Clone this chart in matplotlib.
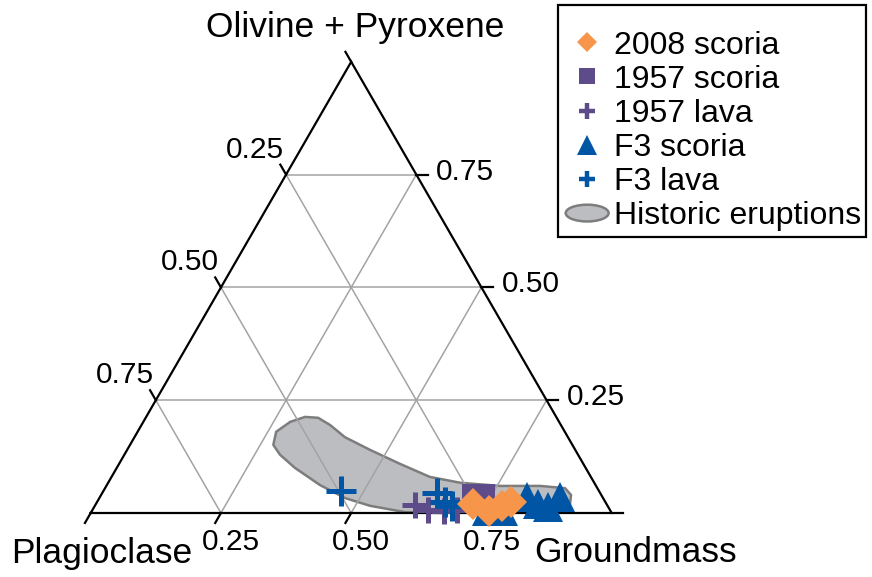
import matplotlib
matplotlib.use("Agg")
import matplotlib.pyplot as plt
import numpy as np
from matplotlib.patches import Polygon, Ellipse, Patch, Rectangle
from matplotlib.lines import Line2D
from matplotlib.legend_handler import HandlerPatch

plt.rcParams["font.family"] = ["Liberation Sans", "DejaVu Sans"]

# ternary fractions: groundmass (right corner), olivine + pyroxene (top corner)
# plagioclase (left corner) = 1 - groundmass - olivine
lava_1957_gm = [0.614, 0.644, 0.676, 0.700]
lava_1957_ol = [0.018, 0.007, 0.004, 0.007]

f3_lava_gm = [0.455, 0.643, 0.668, 0.686]
f3_lava_ol = [0.049, 0.044, 0.024, 0.016]

scoria_1957_gm = [0.711, 0.736]
scoria_1957_ol = [0.042, 0.042]

f3_scoria_gm = [0.759, 0.789, 0.820, 0.849, 0.871, 0.883]
f3_scoria_ol = [0.004, 0.004, 0.036, 0.020, 0.013, 0.036]

scoria_2008_gm = [0.724, 0.762, 0.782, 0.795]
scoria_2008_ol = [0.020, 0.004, 0.016, 0.024]

# outline of the historic eruptions field
hist_gm = [0.275, 0.266, 0.282, 0.305, 0.331, 0.362, 0.404, 0.466, 0.539,
           0.611, 0.676, 0.756, 0.833, 0.883, 0.902, 0.910, 0.895, 0.783,
           0.671, 0.602, 0.528, 0.472, 0.409, 0.342, 0.299]
hist_ol = [0.151, 0.180, 0.202, 0.213, 0.211, 0.195, 0.168, 0.140, 0.109,
           0.080, 0.067, 0.060, 0.060, 0.055, 0.040, 0.020, 0.011, 0.004,
           0.000, 0.002, 0.016, 0.033, 0.062, 0.100, 0.129]

ticks = [0.25, 0.50, 0.75]

H = np.sqrt(3) / 2


def tern(gm, ol):
    gm = np.asarray(gm, dtype=float)
    ol = np.asarray(ol, dtype=float)
    return gm + ol / 2, ol * H


W, HT = 872, 577
fig = plt.figure(figsize=(W / 100, HT / 100), dpi=100)
ax = fig.add_axes([0, 0, 1, 1])
px = 521.0  # pixels per unit
ax.set_xlim(-90.7 / px, (W - 90.7) / px)
ax.set_ylim((513 - HT) / px, 513 / px)
ax.axis("off")

# grid
grid_kw = dict(color="#a3a3a3", lw=1.1, zorder=2)
for t in ticks:
    # constant olivine
    x, y = tern([0, 1 - t], [t, t])
    ax.plot(x, y, **grid_kw)
    # constant groundmass
    x, y = tern([t, t], [0, 1 - t])
    ax.plot(x, y, **grid_kw)
    # constant plagioclase
    x, y = tern([1 - t, 0], [0, 1 - t])
    ax.plot(x, y, **grid_kw)

# historic field
hx, hy = tern(hist_gm, hist_ol)
ax.add_patch(Polygon(np.column_stack([hx, hy]), closed=True, facecolor="#bcbdc0",
                     edgecolor="#7d7d7d", lw=1.8, joinstyle="round", zorder=1))

# frame
x, y = tern([0, 1, 0, 0], [0, 0, 1, 0])
ax.plot(x, y, color="black", lw=1.6, zorder=3, solid_joinstyle="miter")

# ticks
tl = 11.5 / px
for t in [0.0] + ticks:
    # bottom (groundmass)
    x0, y0 = tern(t, 0)
    ax.plot([x0, x0 - 0.5 * tl], [y0, y0 - H * tl], color="black", lw=1.6, zorder=3)
    # right (olivine)
    x0, y0 = tern(1 - t, t)
    ax.plot([x0, x0 + tl], [y0, y0], color="black", lw=1.6, zorder=3)
    # left (plagioclase)
    x0, y0 = tern(0, 1 - t)
    ax.plot([x0, x0 - 0.5 * tl], [y0, y0 + H * tl], color="black", lw=1.6, zorder=3)

fs = 21.5
for t in ticks:
    x0, y0 = tern(t, 0)
    ax.text(x0 + 10 / px, y0 - 29 / px, f"{t:.2f}", fontsize=fs, ha="center", va="center")
    x0, y0 = tern(1 - t, t)
    ax.text(x0 + 20 / px, y0 + 3 / px, f"{t:.2f}", fontsize=fs, ha="left", va="center")
    x0, y0 = tern(0, 1 - t)
    ax.text(x0 - 31 / px, y0 + 25 / px, f"{t:.2f}", fontsize=fs, ha="center", va="center")

tfs = 25.5
fig.text(355 / W, 1 - 28 / HT, "Olivine + Pyroxene", fontsize=tfs, ha="center", va="center")
fig.text(11 / W, 1 - 553 / HT, "Plagioclase", fontsize=tfs, ha="left", va="center")
fig.text(534 / W, 1 - 553 / HT, "Groundmass", fontsize=tfs, ha="left", va="center")

orange = "#f7964a"
purple = "#5e4b8a"
blue = "#0055a5"

x, y = tern(lava_1957_gm, lava_1957_ol)
ax.plot(x, y, ls="none", marker="+", ms=19, mew=3.6, color=purple, zorder=4)
x, y = tern(f3_lava_gm, f3_lava_ol)
ax.plot(x, y, ls="none", marker="+", ms=21, mew=3.6, color=blue, zorder=5)
x, y = tern(scoria_1957_gm, scoria_1957_ol)
ax.plot(x, y, ls="none", marker="s", ms=15, color=purple, mew=0, zorder=5)
x, y = tern(f3_scoria_gm, f3_scoria_ol)
ax.plot(x, y, ls="none", marker="^", ms=22, color=blue, mew=0, zorder=6)
x, y = tern(scoria_2008_gm, scoria_2008_ol)
ax.plot(x, y, ls="none", marker="D", ms=16.5, color=orange, mew=0, zorder=7)


def make_ellipse(legend, orig_handle, xdescent, ydescent, width, height, fontsize):
    return Ellipse(xy=(0.5 * width - xdescent, 0.5 * height - ydescent),
                   width=width * 1.12, height=height * 0.75)


handles = [
    Line2D([], [], ls="none", marker="D", ms=10, color=orange, mew=0),
    Line2D([], [], ls="none", marker="s", ms=11.5, color=purple, mew=0),
    Line2D([], [], ls="none", marker="+", ms=12, mew=3.2, color=purple),
    Line2D([], [], ls="none", marker="^", ms=14, color=blue, mew=0),
    Line2D([], [], ls="none", marker="+", ms=12, mew=3.2, color=blue),
    Patch(facecolor="#bcbdc0", edgecolor="#7d7d7d", lw=1.8),
]
labels = ["2008 scoria", "1957 scoria", "1957 lava", "F3 scoria", "F3 lava",
          "Historic eruptions"]
leg = fig.legend(handles, labels, loc="upper left",
                 bbox_to_anchor=(568 / W, 1 - 30.5 / HT), fontsize=23,
                 frameon=False, borderpad=0, labelspacing=0.13, handlelength=1.2,
                 handletextpad=0.25, borderaxespad=0,
                 handler_map={Patch: HandlerPatch(patch_func=make_ellipse)})

# legend box drawn separately (tight at the right, roomy at the top)
fig.patches.append(Rectangle((558 / W, 1 - 237 / HT), 308 / W, 232 / HT,
                             transform=fig.transFigure, fill=False,
                             edgecolor="black", lw=1.6))

fig.savefig("out.png", dpi=100)
